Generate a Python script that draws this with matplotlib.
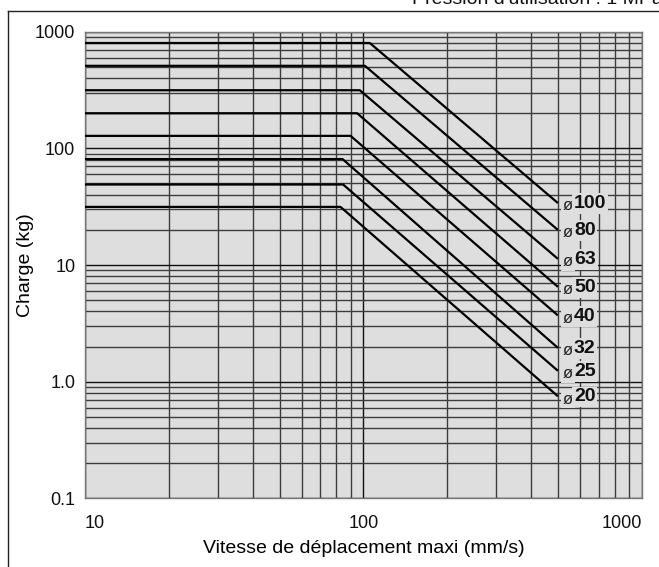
import numpy as np
import matplotlib
matplotlib.use("Agg")
import matplotlib.pyplot as plt
from matplotlib.lines import Line2D
from matplotlib.ticker import LogLocator, FixedLocator, NullFormatter

plt.rcParams['font.family'] = ['Liberation Sans', 'DejaVu Sans']

# bore sizes and load curves
bores = ['100', '80', '63', '50', '40', '32', '25', '20']
max_load = [800, 510, 315, 200, 128, 81, 49, 31.5]        # kg, flat part
break_speed = [105.5, 101.3, 97.1, 95, 90, 84.2, 84.6, 82.8]  # mm/s, start of slope
end_speed = 500                                            # mm/s
end_load = [34, 20, 11.3, 6.5, 3.7, 1.95, 1.24, 0.75]     # kg at end_speed

x_ticks = [10, 100, 1000]
x_ticklabels = ['10', '100', '1000']
y_ticks = [0.1, 1, 10, 100, 1000]
y_ticklabels = ['0.1', '1.0', '10', '100', '1000']

BG = '#dedede'
GRID = '#3c3c3c'

W, H = 659, 567
fig = plt.figure(figsize=(W / 100, H / 100), dpi=100)
ax_w = 641.7 - 85
ax = fig.add_axes([85 / W, 1 - 498.4 / H, ax_w / W, (498.4 - 31.7) / H])
ax.set_facecolor(BG)
ax.set_xscale('log')
ax.set_yscale('log')
ax.set_xlim(10, 1000)
ax.set_ylim(0.1, 1000)

ax.xaxis.set_minor_locator(LogLocator(base=10, subs=np.arange(2, 10)))
ax.yaxis.set_minor_locator(LogLocator(base=10, subs=np.arange(2, 10)))
ax.xaxis.set_minor_formatter(NullFormatter())
ax.yaxis.set_minor_formatter(NullFormatter())
ax.xaxis.set_major_locator(FixedLocator(x_ticks))
ax.yaxis.set_major_locator(FixedLocator(y_ticks))
ax.set_xticklabels(x_ticklabels)
ax.set_yticklabels(y_ticklabels)
xl = ax.get_xticklabels()
xl[0].set_horizontalalignment('left')
xl[-1].set_horizontalalignment('right')

ax.grid(True, which='major', color='#111111', lw=1.0)
ax.grid(True, which='minor', color=GRID, lw=1.0)
ax.set_axisbelow(True)
ax.tick_params(which='both', length=0, labelsize=13, colors='#111111')
ax.tick_params(axis='x', pad=12)
ax.tick_params(axis='y', pad=7)
for s in ax.spines.values():
    s.set_color('#777777')
    s.set_linewidth(1.0)

ax.set_xlabel('Vitesse de déplacement maxi (mm/s)', fontsize=14, labelpad=6)
ax.set_ylabel('Charge (kg)', fontsize=14, va='center')
ax.yaxis.set_label_coords((26 - 85) / ax_w, 0.5)

for b, m, vb, me in zip(bores, max_load, break_speed, end_load):
    ax.plot([10, vb, end_speed], [m, m, me], color='black', lw=1.6,
            solid_capstyle='butt', zorder=3)
    ax.annotate('ø', (end_speed, me), xytext=(3.5, -2), textcoords='offset points',
                fontsize=12, va='center', ha='left', color='#222222', zorder=5,
                bbox=dict(boxstyle='square,pad=0.1', fc=BG, ec='none'))
    ax.annotate(b, (end_speed, me), xytext=(11.5, -0.5), textcoords='offset points',
                fontsize=14, fontweight='bold', va='center', ha='left',
                color='#111111', zorder=5,
                bbox=dict(boxstyle='square,pad=0.1', fc=BG, ec='none'))

# outer frame and clipped header
fig.add_artist(Line2D([8.3 / W, 8.3 / W], [0, 1 - 11 / H], color='#222222', lw=1.0))
fig.add_artist(Line2D([8.3 / W, 1], [1 - 11 / H, 1 - 11 / H], color='#222222', lw=1.0))
fig.text(412 / W, 1 - 4.5 / H, "Pression d'utilisation : 1 MPa", fontsize=14,
         ha='left', va='baseline', color='#111111')

fig.savefig('out.png', dpi=100, facecolor='white')
